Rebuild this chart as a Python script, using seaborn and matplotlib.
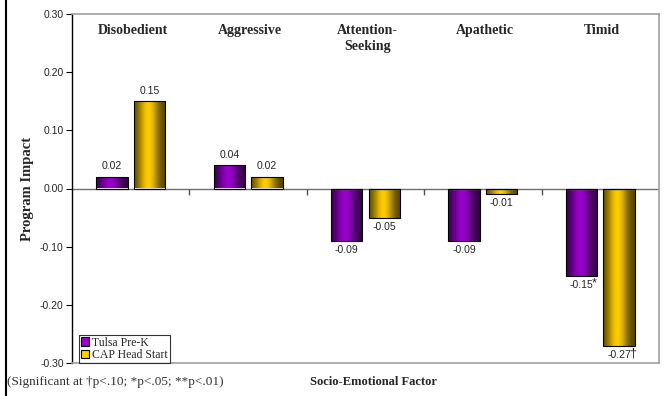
import numpy as np
import pandas as pd
import matplotlib
matplotlib.use("Agg")
import matplotlib.pyplot as plt
from matplotlib.lines import Line2D
from matplotlib.colors import to_rgb
import seaborn as sns

# Program impact estimates by socio-emotional factor
factors = ["Disobedient", "Aggressive", "Attention-\nSeeking", "Apathetic", "Timid"]
tulsa = [0.02, 0.04, -0.09, -0.09, -0.15]
cap = [0.15, 0.02, -0.05, -0.01, -0.27]
tulsa_sig = ["", "", "", "", "*"]
cap_sig = ["", "", "", "", "\u2020"]
programs = ["Tulsa Pre-K", "CAP Head Start"]
colors = ["#9900CC", "#FFCC00"]
yticks = [-0.30, -0.20, -0.10, 0.00, 0.10, 0.20, 0.30]

df = pd.DataFrame({
    "factor": factors * 2,
    "program": [programs[0]] * len(factors) + [programs[1]] * len(factors),
    "impact": tulsa + cap,
})

sns.set_style("white")
SERIF = ["Liberation Serif", "DejaVu Serif"]
SANS = ["Liberation Sans", "DejaVu Sans"]
plt.rcParams["font.family"] = SANS

fig = plt.figure(figsize=(6.69, 3.96), dpi=100)
ax = fig.add_axes([72 / 669, 33 / 396, 587 / 669, 349 / 396])

sns.barplot(data=df, x="factor", y="impact", hue="program", order=factors,
            hue_order=programs, palette=colors, width=0.64, gap=0.16,
            edgecolor="black", linewidth=0.8, ax=ax, legend=False)

ax.set_ylim(-0.30, 0.30)
ax.set_xlim(-0.5, len(factors) - 0.5)

# shaded (cylinder-like) fill for each bar
prof = np.linspace(0, 1, 64)
shade = 0.30 + 0.70 * np.exp(-((prof - 0.45) / 0.32) ** 2)
for container, col in zip(ax.containers, colors):
    base = np.array(to_rgb(col))
    grad = (shade[None, :, None] * base[None, None, :])
    for bar in container:
        x0, y0 = bar.get_x(), bar.get_y()
        w, h = bar.get_width(), bar.get_height()
        im = ax.imshow(grad, extent=[x0, x0 + w, min(y0, y0 + h), max(y0, y0 + h)],
                       aspect="auto", zorder=bar.get_zorder() - 0.01,
                       interpolation="bilinear")
        im.set_clip_path(bar)
        bar.set_facecolor("none")
        bar.set_zorder(bar.get_zorder() + 0.5)

ax.set_xlim(-0.5, len(factors) - 0.5)
ax.set_ylim(-0.30, 0.30)

# value labels
for container, vals, sigs in zip(ax.containers, [tulsa, cap], [tulsa_sig, cap_sig]):
    for bar, v, s in zip(container, vals, sigs):
        cx = bar.get_x() + bar.get_width() / 2
        if v >= 0:
            ax.annotate(f"{v:.2f}", (cx, v), xytext=(0, 4), textcoords="offset points",
                        ha="center", va="bottom", fontsize=7.5)
        else:
            ax.annotate(f"{v:.2f}", (cx, v), xytext=(0, -3), textcoords="offset points",
                        ha="center", va="top", fontsize=7.5)
            if s:
                ax.annotate(s, (cx, v), xytext=(7.5, -1.5), textcoords="offset points",
                            ha="left", va="top", fontsize=9)

# category titles along the top
for i, name in enumerate(factors):
    ax.text(i + 0.015, 0.283, name, ha="center", va="top", fontsize=10,
            fontweight="bold", family=SERIF, linespacing=1.3)

# axes styling
ax.set_yticks(yticks)
ax.set_yticklabels([f"{t:.2f}" for t in yticks], fontsize=7.5)
ax.tick_params(axis="y", direction="out", length=4, width=0.8, color="black",
               left=True, pad=2)
ax.set_xticks([])
ax.set_xlabel("")
ax.set_ylabel("Program Impact", fontsize=10.5, fontweight="bold", family=SERIF,
              labelpad=4)
for side in ["top", "right", "bottom"]:
    ax.spines[side].set_visible(True)
    ax.spines[side].set_color("#A0A0A0")
    ax.spines[side].set_linewidth(1.2)
ax.spines["left"].set_color("black")
ax.spines["left"].set_linewidth(1.0)

ax.axhline(0, color="#707070", lw=1.0, zorder=1)
bounds = np.arange(0.5, len(factors) - 0.5, 1.0)
ax.plot(bounds, np.zeros_like(bounds), ls="none", marker=3, markersize=4,
        color="#505050", mew=1.0)

# legend
handles = [plt.Rectangle((0, 0), 1, 1, facecolor=c, edgecolor="black", lw=0.8)
           for c in colors]
leg = ax.legend(handles, programs, loc="lower left", bbox_to_anchor=(0.012, 0.0),
                frameon=True, fancybox=False, edgecolor="black",
                prop={"family": SERIF, "size": 8.5}, handlelength=0.7,
                handleheight=0.7, handletextpad=0.25, borderpad=0.15,
                labelspacing=0.05, borderaxespad=0.0)
leg.get_frame().set_linewidth(0.8)

fig.text(374 / 669, 1 - 382 / 396, "Socio-Emotional Factor", ha="center",
         va="center", fontsize=9, fontweight="bold", family=SERIF)
fig.text(7 / 669, 1 - 382 / 396, "(Significant at \u2020p<.10; *p<.05; **p<.01)",
         ha="left", va="center", fontsize=9.5, family=SERIF, color="#333333")

fig.add_artist(Line2D([5.5 / 669, 5.5 / 669], [0, 1], transform=fig.transFigure,
                      color="black", lw=1.5))

fig.savefig("out.png", dpi=100)
